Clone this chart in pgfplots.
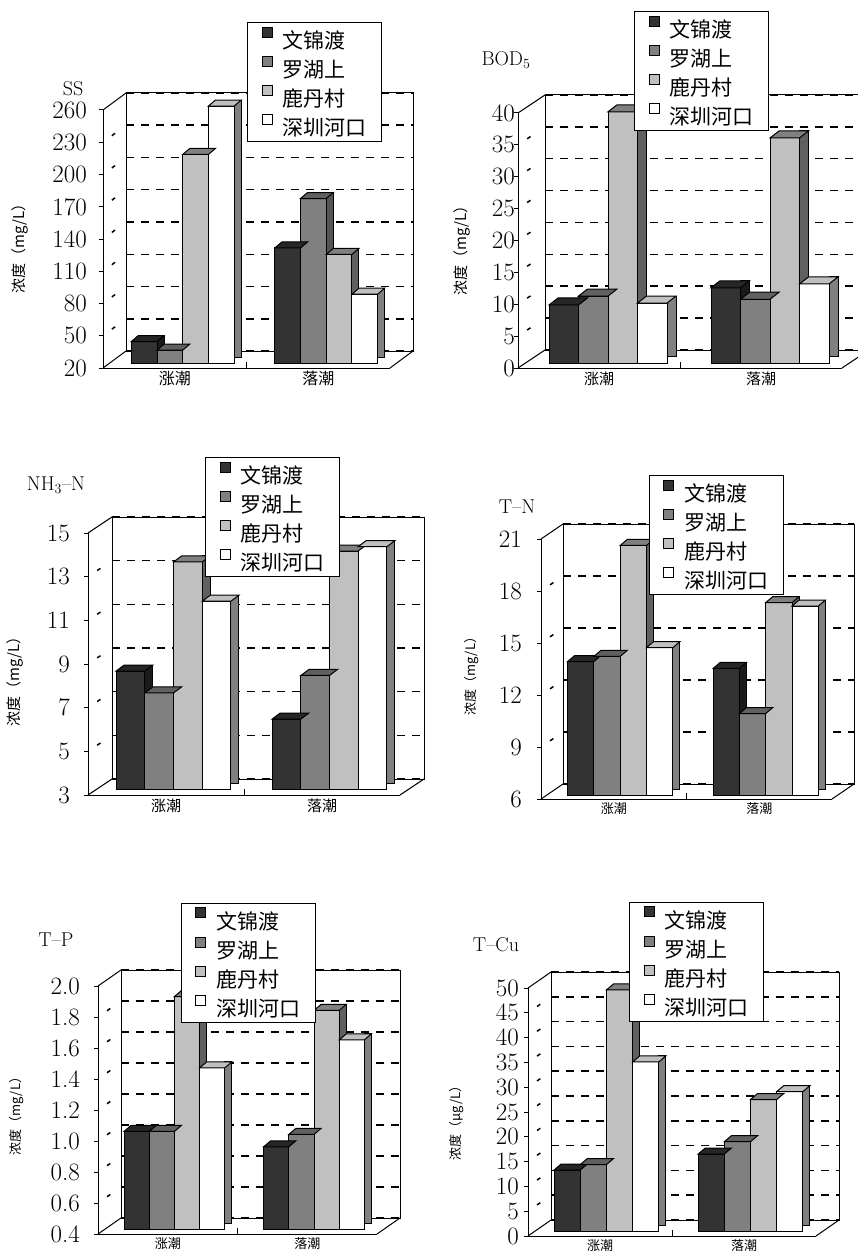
\documentclass[border=0pt]{standalone}
\usepackage{pgfplots}
\pgfplotsset{compat=1.18}
\usepackage{pgfplotstable}
\usepackage{fontspec}
\newfontfamily\cjk{Noto Sans CJK SC}

% front / top / side shades of the four stations
\definecolor{fA}{HTML}{333333}\definecolor{tA}{HTML}{262626}\definecolor{sA}{HTML}{1A1A1A}
\definecolor{fB}{HTML}{808080}\definecolor{tB}{HTML}{606060}\definecolor{sB}{HTML}{555555}
\definecolor{fC}{HTML}{C0C0C0}\definecolor{tC}{HTML}{808080}\definecolor{sC}{HTML}{606060}
\definecolor{fD}{HTML}{FFFFFF}\definecolor{tD}{HTML}{C0C0C0}\definecolor{sD}{HTML}{808080}

% a = 文锦渡, b = 罗湖上, c = 鹿丹村, d = 深圳河口 ; x 0.5 = 涨潮, 1.5 = 落潮
\pgfplotstableread{
x    a     b     c     d
0.5  40    32    214   259
1.5  127   173   121   84
}\tSS
\pgfplotstableread{
x    a     b     c     d
0.5  9.1   10.5  39.4  9.4
1.5  11.8  10.0  35.3  12.4
}\tBOD
\pgfplotstableread{
x    a     b     c     d
0.5  8.4   7.4   13.4  11.6
1.5  6.2   8.2   13.9  14.1
}\tNH
\pgfplotstableread{
x    a     b     c     d
0.5  13.7  14.0  20.4  14.5
1.5  13.3  10.7  17.1  16.9
}\tTN
\pgfplotstableread{
x    a     b     c     d
0.5  1.03  1.03  1.90  1.44
1.5  0.93  1.01  1.81  1.62
}\tTP
\pgfplotstableread{
x    a     b     c     d
0.5  12.3  13.4  48.6  34.1
1.5  15.5  18.0  26.5  28.1
}\tCu

% top face of a bar, drawn as a mark at the data point
\pgfdeclareplotmark{topface}{%
  \pgfpathmoveto{\pgfpoint{-0.5*\Bw}{0pt}}%
  \pgfpathlineto{\pgfpoint{0.5*\Bw}{0pt}}%
  \pgfpathlineto{\pgfpoint{0.5*\Bw+\Dx}{\Dy}}%
  \pgfpathlineto{\pgfpoint{-0.5*\Bw+\Dx}{\Dy}}%
  \pgfpathclose
  \pgfusepathqfillstroke}

\pgfplotsset{
  sq legend/.style={legend image code/.code={\draw[##1,draw=black,line width=1pt] (0pt,3pt) rectangle (10pt,13pt);}},
}

% one station: side, front, top
\newcommand{\cube}[6]{%
  \addplot[ybar, bar width=\Dx, bar shift=#3*\Bw+0.5*\Bw+0.5*\Dx, yshift=\Dy, fill=#6, forget plot] table[x=x,y=#2]{#1};
  \addplot[ybar, bar width=\Bw, bar shift=#3*\Bw, fill=#4, forget plot] table[x=x,y=#2]{#1};
  \addplot[only marks, mark=topface, xshift=#3*\Bw, mark options={fill=#5, draw=black, line width=1pt}, forget plot] table[x=x,y=#2]{#1};
}

\newcommand{\panel}[1]{%
  \pgfmathsetmacro\Ytop{\Ymin+1.3*(\Ymax-\Ymin)}%
  % back wall
  \begin{axis}[at={(\Xo+\Bx,-\Yo+\By)}, anchor=south west, scale only axis,
      width=\W, height=\H, xmin=0, xmax=2, ymin=\Ymin, ymax=\Ymax,
      xtick=\empty, ytick/.expand once=\Yticks, yticklabel=\empty, ymajorgrids,
      major tick length=0pt, axis line style={line width=1pt},
      grid style={black, line width=1.5pt, dash pattern=on 8pt off 7pt}]
  \end{axis}
  % floor and side wall edges
  \draw[line width=1pt] (\Xo,-\Yo) -- ++(\Bx,\By) (\Xo,-\Yo+\H) -- ++(\Bx,\By) (\Xo+\W,-\Yo) -- ++(\Bx,\By);
  \foreach \v in \Yinner {\draw[line width=1.5pt, dash pattern=on 0pt off 11pt on 4pt off 30pt]
     (\Xo,{-\Yo+(\v-\Ymin)/(\Ymax-\Ymin)*\H}) -- ++(\Bx,\By);}
  % bars
  \begin{axis}[at={(\Xo+\Px,-\Yo+\Py)}, anchor=south west, scale only axis,
      width=\W, height=1.3*\H, xmin=0, xmax=2, ymin=\Ymin, ymax=\Ytop, hide axis,
      every axis plot/.append style={draw=black, line width=1pt}]
    \cube{#1}{a}{-1.5}{fA}{tA}{sA}
    \cube{#1}{b}{-0.5}{fB}{tB}{sB}
    \cube{#1}{c}{0.5}{fC}{tC}{sC}
    \cube{#1}{d}{1.5}{fD}{tD}{sD}
  \end{axis}
  % front axis, labels, legend
  \begin{axis}[at={(\Xo,-\Yo)}, anchor=south west, scale only axis,
      width=\W, height=\H, xmin=0, xmax=2, ymin=\Ymin, ymax=\Ymax, clip=false,
      axis x line*=bottom, axis y line*=left, axis line style={-, line width=1pt},
      ytick/.expand once=\Yticks, ytick align=outside, major tick length=4pt,
      ytick style={black, line width=1pt}, xtick style={draw=none},
      y tick label style={font=\fontsize{25}{25}\selectfont, inner sep=0pt, xshift=-\Tg},
      /pgf/number format/assume math mode=true,
      xtick={0.5,1.5}, xticklabels={涨潮,落潮},
      xticklabel style={font=\cjk\fontsize{\Csz}{\Csz}\selectfont},
      ptick, sq legend, legend cell align=left,
      legend style={at={(\LegX,\LegY)}, anchor=north west, draw=black, line width=1pt,
        font=\cjk\fontsize{21}{21}\selectfont, inner xsep=14pt, inner ysep=4pt,
        nodes={inner sep=1pt}, row sep=5pt,
        /tikz/every odd column/.append style={column sep=9pt}}]
    \addlegendimage{fill=fA}\addlegendentry{文锦渡}
    \addlegendimage{fill=fB}\addlegendentry{罗湖上}
    \addlegendimage{fill=fC}\addlegendentry{鹿丹村}
    \addlegendimage{fill=fD}\addlegendentry{深圳河口}
    \draw[line width=1pt] (axis cs:1,\Ymin) -- ++(0pt,6pt);
  \end{axis}
  \node[font=\fontsize{20}{20}\selectfont] at (\Tx,-\Ty) {\Title};
  \node[rotate=90, font=\cjk\fontsize{\Lsz}{\Lsz}\selectfont] at (\Lx,-\Ly) {\Ylab};
}

\begin{document}
\begin{tikzpicture}
% SS
\def\Xo{103pt}\def\Yo{368pt}\def\W{287pt}\def\H{258pt}
\def\Ymin{20}\def\Ymax{260}\def\Yticks{20,50,80,110,140,170,200,230,260}\def\Yinner{50,80,110,140,170,200,230}
\def\Bx{23pt}\def\By{17pt}\def\Px{8pt}\def\Py{5pt}\def\Bw{25.7pt}\def\Dx{7pt}\def\Dy{6pt}
\def\LegX{0.502}\def\LegY{1.341}
\def\Tx{73pt}\def\Ty{89pt}\def\Title{SS}
\def\Lx{20pt}\def\Ly{245pt}\def\Lsz{15}\def\Csz{16}\def\Tg{12pt}
\def\Ylab{浓度（mg/L）}
\pgfplotsset{ptick/.style={}}
\panel{\tSS}

% BOD5
\def\Xo{518pt}\def\Yo{368pt}\def\W{324pt}\def\H{255pt}
\def\Ymin{0}\def\Ymax{40}\def\Yticks{0,5,10,15,20,25,30,35,40}\def\Yinner{5,10,15,20,25,30,35}
\def\Bx{27pt}\def\By{18pt}\def\Px{9pt}\def\Py{5pt}\def\Bw{29.5pt}\def\Dx{9pt}\def\Dy{7pt}
\def\LegX{0.358}\def\LegY{1.400}
\def\Tx{506pt}\def\Ty{60pt}\def\Title{BOD\textsubscript{5}}
\def\Lx{462pt}\def\Ly{247pt}\def\Lsz{15}\def\Csz{15}\def\Tg{-1pt}
\def\Ylab{浓度（mg/L）}
\panel{\tBOD}

% NH3-N
\def\Xo{88pt}\def\Yo{795pt}\def\W{312pt}\def\H{262pt}
\def\Ymin{3}\def\Ymax{15}\def\Yticks{3,5,7,9,11,13,15}\def\Yinner{5,7,9,11,13}
\def\Bx{24pt}\def\By{16pt}\def\Px{7.5pt}\def\Py{6pt}\def\Bw{28.7pt}\def\Dx{8pt}\def\Dy{6pt}
\def\LegX{0.375}\def\LegY{1.290}
\def\Tx{56pt}\def\Ty{485pt}\def\Title{NH\textsubscript{3}--N}
\def\Lx{15pt}\def\Ly{678pt}\def\Lsz{15}\def\Csz{15}\def\Tg{14pt}
\def\Ylab{浓度（mg/L）}
\panel{\tNH}

% T-N
\def\Xo{541pt}\def\Yo{799pt}\def\W{291pt}\def\H{260pt}
\def\Ymin{6}\def\Ymax{21}\def\Yticks{6,9,12,15,18,21}\def\Yinner{9,12,15,18}
\def\Bx{22pt}\def\By{15pt}\def\Px{6.5pt}\def\Py{4pt}\def\Bw{26.3pt}\def\Dx{7pt}\def\Dy{6pt}
\def\LegX{0.371}\def\LegY{1.246}
\def\Tx{517pt}\def\Ty{507pt}\def\Title{T--N}
\def\Lx{472pt}\def\Ly{673pt}\def\Lsz{13}\def\Csz{13}\def\Tg{15pt}
\def\Ylab{浓度（mg/L）}
\panel{\tTN}

% T-P
\def\Xo{98pt}\def\Yo{1234pt}\def\W{279pt}\def\H{248pt}
\def\Ymin{0.4}\def\Ymax{2.0}\def\Yticks{0.4,0.6,0.8,1.0,1.2,1.4,1.6,1.8,2.0}\def\Yinner{0.6,0.8,1.0,1.2,1.4,1.6,1.8}
\def\Bx{23pt}\def\By{16pt}\def\Px{6.75pt}\def\Py{5pt}\def\Bw{25.2pt}\def\Dx{7pt}\def\Dy{6pt}
\def\LegX{0.297}\def\LegY{1.335}
\def\Tx{56pt}\def\Ty{940pt}\def\Title{T--P}
\def\Lx{17pt}\def\Ly{1113pt}\def\Lsz{13}\def\Csz{13}\def\Tg{14pt}
\def\Ylab{浓度（mg/L）}
\pgfplotsset{ptick/.style={/pgf/number format/.cd, fixed, fixed zerofill, precision=1}}
\panel{\tTP}

% T-Cu
\def\Xo{528pt}\def\Yo{1236pt}\def\W{288pt}\def\H{248pt}
\def\Ymin{0}\def\Ymax{50}\def\Yticks{0,5,10,15,20,25,30,35,40,45,50}\def\Yinner{5,10,15,20,25,30,35,40,45}
\def\Bx{23pt}\def\By{16pt}\def\Px{6.5pt}\def\Py{5pt}\def\Bw{26.2pt}\def\Dx{7pt}\def\Dy{6pt}
\def\LegX{0.351}\def\LegY{1.347}
\def\Tx{496pt}\def\Ty{945pt}\def\Title{T--Cu}
\def\Lx{457pt}\def\Ly{1120pt}\def\Lsz{13}\def\Csz{13}\def\Tg{5pt}
\def\Ylab{浓度（μg/L）}
\pgfplotsset{ptick/.style={}}
\panel{\tCu}

\pgfresetboundingbox
\useasboundingbox (0pt,0pt) rectangle (857pt,-1257pt);
\end{tikzpicture}
\end{document}
